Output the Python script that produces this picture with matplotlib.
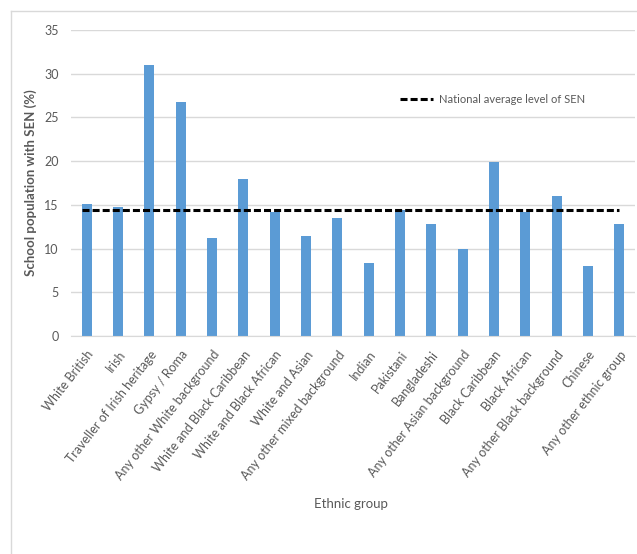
import numpy as np
import matplotlib
matplotlib.use('Agg')
import matplotlib.pyplot as plt
from matplotlib.lines import Line2D

groups = ['White British', 'Irish', 'Traveller of Irish heritage', 'Gypsy / Roma',
          'Any other White background', 'White and Black Caribbean',
          'White and Black African', 'White and Asian', 'Any other mixed background',
          'Indian', 'Pakistani', 'Bangladeshi', 'Any other Asian background',
          'Black Caribbean', 'Black African', 'Any other Black background',
          'Chinese', 'Any other ethnic group']
sen_pct = [15.1, 14.7, 31.0, 26.8, 11.2, 18.0, 14.2, 11.4, 13.5,
           8.4, 14.4, 12.8, 10.0, 19.9, 14.2, 16.0, 8.0, 12.8]
national_avg = 14.4

plt.rcParams['font.family'] = ['Lato', 'DejaVu Sans']
grey = '#595959'
grid = '#d9d9d9'

fig = plt.figure(figsize=(6.37, 5.54), dpi=100)
ax = fig.add_axes([71 / 637, 1 - 336 / 554, 564 / 637, 306 / 554])

x = np.arange(len(groups))
ax.bar(x, sen_pct, width=0.32, color='#5b9bd5', zorder=2)
ax.plot([-0.16, len(groups) - 1], [national_avg, national_avg], color='black',
        lw=2.2, linestyle=(0, (2.3, 1.0)), zorder=3)

ax.set_xlim(-0.5, len(groups) - 0.5)
ax.set_ylim(0, 35)
ax.set_yticks(range(0, 36, 5))
ax.yaxis.grid(True, color=grid, lw=1, zorder=0)
ax.set_axisbelow(True)
for s in ['top', 'right', 'left']:
    ax.spines[s].set_visible(False)
ax.spines['bottom'].set_color(grid)
ax.tick_params(length=0, colors=grey, labelsize=9)
ax.tick_params(axis='y', pad=9)
ax.set_xticks(x)
ax.set_xticklabels(groups, rotation=52, ha='right', va='top',
                   rotation_mode='anchor', fontsize=9)
ax.tick_params(axis='x', pad=9)

ax.set_ylabel('School population with SEN (%)', color=grey, fontsize=9.5,
              fontweight='bold')
ax.yaxis.set_label_coords(-0.06, 0.5)
ax.set_xlabel('Ethnic group', color=grey, fontsize=9.5)
ax.xaxis.set_label_coords(0.496, -0.53)

handle = Line2D([], [], color='black', lw=2.2, linestyle=(0, (2.3, 1.0)))
leg = ax.legend([handle], ['National average level of SEN'], frameon=False,
                loc='center left', bbox_to_anchor=(0.565, 0.773), fontsize=8,
                handlelength=3.0, handletextpad=0.5)
for t in leg.get_texts():
    t.set_color(grey)

# light frame around the chart area
fig.add_artist(Line2D([11 / 637, 11 / 637], [0, 1 - 11 / 554], color=grid,
                      lw=1, transform=fig.transFigure))
fig.add_artist(Line2D([11 / 637, 1], [1 - 11 / 554, 1 - 11 / 554], color=grid,
                      lw=1, transform=fig.transFigure))

fig.savefig('out.png', dpi=100, facecolor='white')
